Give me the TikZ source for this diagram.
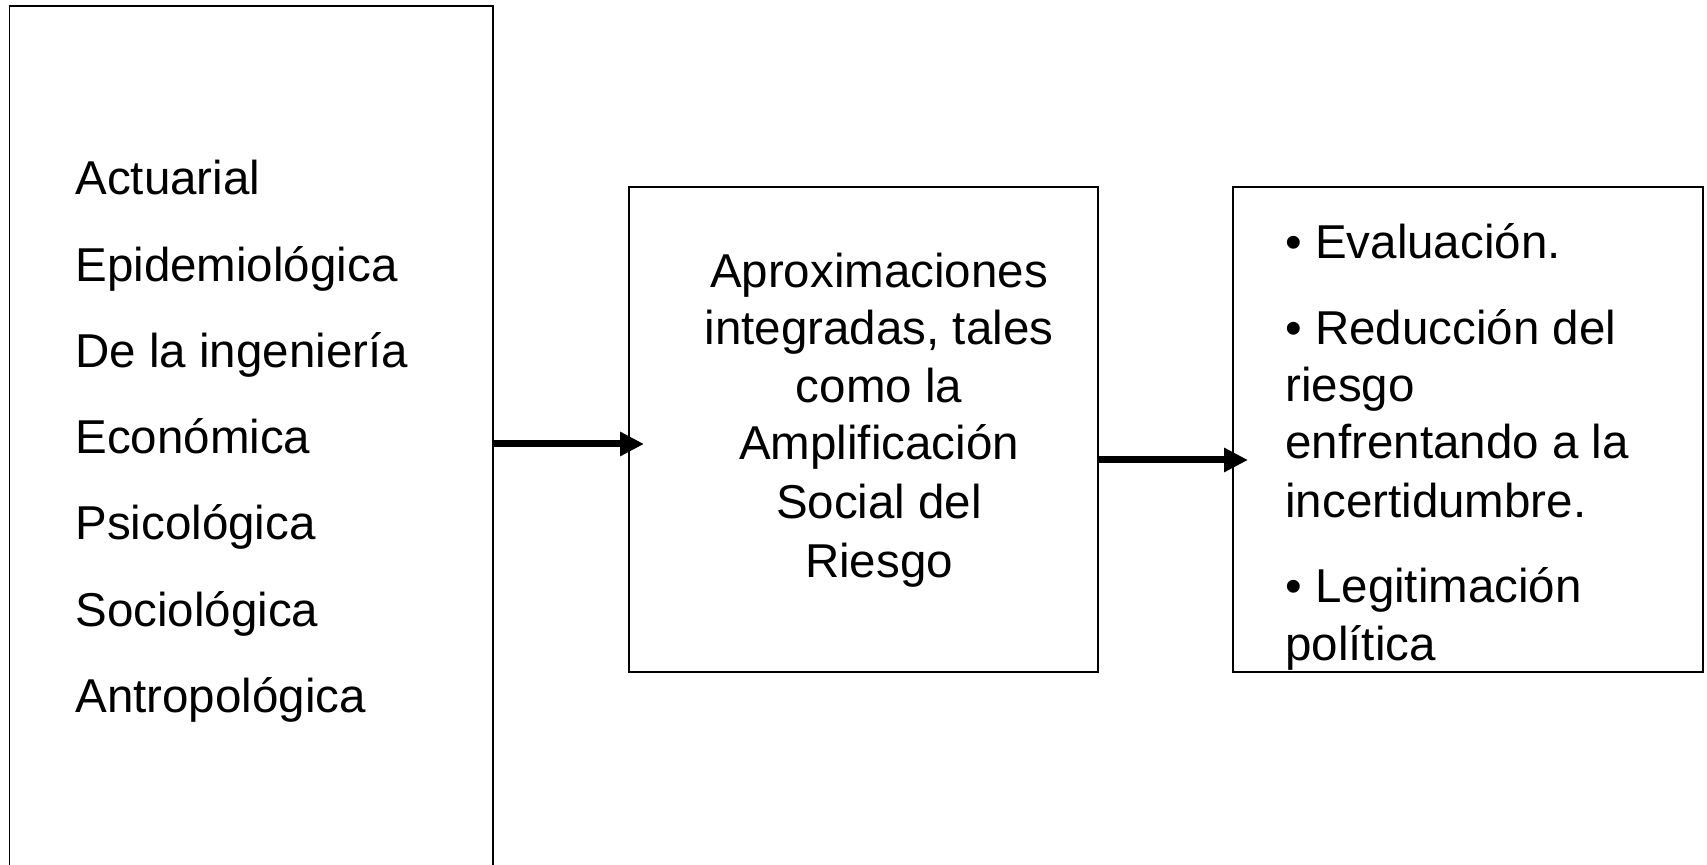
\documentclass[tikz,border=0pt]{standalone}
\usepackage{fontspec}
\setmainfont{Liberation Sans}
\usetikzlibrary{arrows.meta}
\tikzset{
  box/.style={draw=black, line width=0.6pt, inner sep=0pt, fill=none},
  txt/.style={inner sep=0pt, font=\fontsize{23.75pt}{28.75pt}\selectfont},
  lefttxt/.style={txt, anchor=base west},
  midtxt/.style={txt, anchor=base},
  arr/.style={line width=3.5pt, -{Triangle[length=12pt 0 0,width=11.5pt 0 0]}}
}
\begin{document}
\begin{tikzpicture}[x=0.5pt, y=-0.5pt]
\clip (0,0) rectangle (1707,865);
\fill[white] (0,0) rectangle (1707,865);
% boxes
\node[box, minimum width=241.75pt, minimum height=447pt] (leftbox) at (251.25,453) {};
\node[box, minimum width=234.5pt, minimum height=242.5pt] (midbox) at (863.5,429.5) {};
\node[box, minimum width=235pt, minimum height=242.5pt] (rightbox) at (1468,429.5) {};
% left list
\foreach \t [count=\i] in {Actuarial, Epidemiológica, De la ingeniería, Económica, Psicológica, Sociológica, Antropológica}
  \node[lefttxt] (l\i) at (75,{195+(\i-1)*86.2}) {\t};
% middle text
\foreach \t/\yy [count=\i] in {Aproximaciones/288, {integradas, tales}/345, como la/403, Amplificación/460, Social del/519, Riesgo/577}
  \node[midtxt] (m\i) at (879,\yy) {\t};
% right text
\node[lefttxt] (r1) at (1285,259) {• Evaluación.};
\node[lefttxt] (r2) at (1285,345) {• Reducción del};
\node[lefttxt] (r3) at (1285,402) {riesgo};
\node[lefttxt] (r4) at (1285,459) {enfrentando a la};
\node[lefttxt] (r5) at (1285,517) {incertidumbre.};
\node[lefttxt] (r6) at (1285,603) {• Legitimación};
\node[lefttxt] (r7) at (1285,660) {política};
% arrows
\coordinate (a1end) at (644,444);
\coordinate (a2end) at (1248,460);
\draw[arr] (leftbox.east |- a1end) -- (a1end);
\draw[arr] (midbox.east |- a2end) -- (a2end);
\end{tikzpicture}
\end{document}
